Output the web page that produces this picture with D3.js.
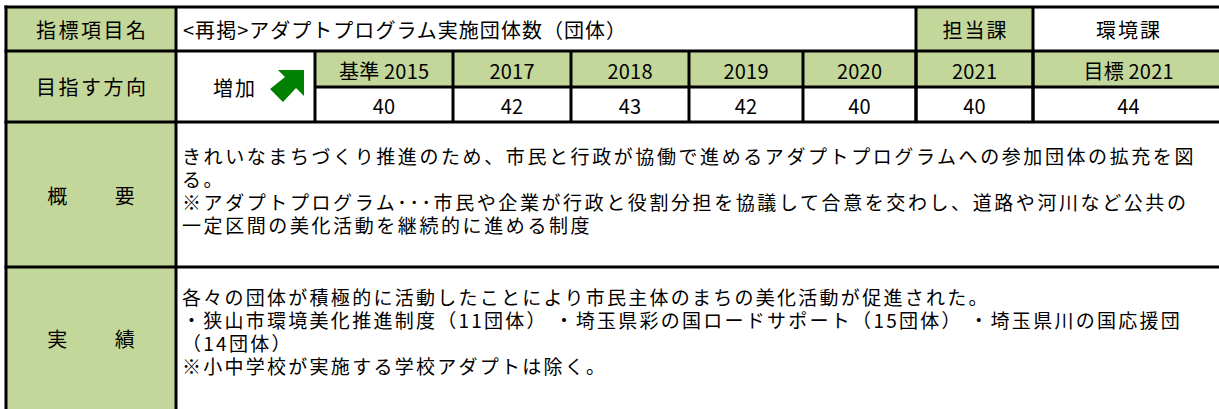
<!DOCTYPE html>
<html><head><meta charset="utf-8">
<script src="https://cdn.jsdelivr.net/npm/d3@7"></script>
<style>
html,body{margin:0;padding:0;background:#fff;}
svg{display:block;font-family:"Noto Sans CJK JP","Noto Sans",sans-serif;font-weight:400;}
.para{font-family:"Noto Sans CJK JP","Noto Sans",sans-serif;color:#000;white-space:pre;margin:0;padding:0;}
.para div{height:23px;line-height:23px;overflow:visible;}
</style></head>
<body><svg id="c" width="1219" height="409"></svg>
<script>
// ---- data ----
const rowLabels = ["指標項目名", "目指す方向", "概　　要", "実　　績"];
const indicatorTitle = "<再掲>アダプトプログラム実施団体数（団体）";
const deptLabel = "担当課";
const deptName = "環境課";
const direction = "増加";
const years = ["基準 2015", "2017", "2018", "2019", "2020", "2021", "目標 2021"];
const values = [40, 42, 43, 42, 40, 40, 44];
const summaryLines = [
  "きれいなまちづくり推進のため、市民と行政が協働で進めるアダプトプログラムへの参加団体の拡充を図",
  "る。",
  "※アダプトプログラム･･･市民や企業が行政と役割分担を協議して合意を交わし、道路や河川など公共の",
  "一定区間の美化活動を継続的に進める制度"
];
const resultLines = [
  "各々の団体が積極的に活動したことにより市民主体のまちの美化活動が促進された。",
  "・狭山市環境美化推進制度（11団体） ・埼玉県彩の国ロードサポート（15団体） ・埼玉県川の国応援団",
  "（14団体）",
  "※小中学校が実施する学校アダプトは除く。"
];

// ---- layout ----
const GREEN = "#c4d79b", LINE = "#000", FS = 20, FSP = 19, LH = 23;
const svg = d3.select("#c");
const xL = 6, xA = 176, xB = 315, xR = 1224;
const colEdges = [xB, 453, 571, 689, 803, 916, 1033, xR];
const yEdges = [7, 51, 122, 267, 415];
const ySub = 87;
const xCol = d3.scaleOrdinal().domain(d3.range(years.length)).range(d3.range(years.length).map(i => colEdges[i]));
const xColEnd = i => colEdges[i + 1];
const yRow = d3.scaleOrdinal().domain(d3.range(4)).range(yEdges.slice(0, 4));
const yRowEnd = i => yEdges[i + 1];

const gFill = svg.append("g"), gLine = svg.append("g"), gText = svg.append("g");

gFill.selectAll("rect.lab").data(rowLabels).join("rect")
  .attr("x", xL).attr("y", (d, i) => yRow(i)).attr("width", xA - xL)
  .attr("height", (d, i) => yRowEnd(i) - yRow(i)).attr("fill", GREEN);
gFill.append("rect").attr("x", 916).attr("y", yEdges[0]).attr("width", 1033 - 916)
  .attr("height", yEdges[1] - yEdges[0]).attr("fill", GREEN);
gFill.selectAll("rect.yr").data(years).join("rect")
  .attr("x", (d, i) => xCol(i)).attr("y", yEdges[1]).attr("width", (d, i) => xColEnd(i) - xCol(i))
  .attr("height", ySub - yEdges[1]).attr("fill", GREEN);

const hl = (x1, x2, y) => gLine.append("line").attr("x1", x1).attr("x2", x2).attr("y1", y).attr("y2", y)
  .attr("stroke", LINE).attr("stroke-width", 3);
const vl = (x, y1, y2) => gLine.append("line").attr("x1", x).attr("x2", x).attr("y1", y1).attr("y2", y2)
  .attr("stroke", LINE).attr("stroke-width", 3);
yEdges.slice(0, 4).forEach(y => hl(xL - 1.5, xR, y));
hl(xB, xR, ySub);
vl(xL, yEdges[0] - 1.5, 409);
vl(xA, yEdges[0], 409);
vl(916, yEdges[0], yEdges[2]);
vl(1033, yEdges[0], yEdges[2]);
colEdges.slice(0, -1).forEach(x => vl(x, yEdges[1], yEdges[2]));

function txt(s, x, y, anchor, ls, fs) {
  const l = ls == null ? 2 : ls;
  const a = anchor || "middle";
  return gText.append("text").attr("x", a === "middle" ? x + l / 2 : x).attr("y", y).attr("text-anchor", a)
    .attr("dominant-baseline", "central").attr("font-size", fs || FS)
    .attr("letter-spacing", l).attr("fill", "#000").text(s);
}
function fitSpacing(s, width, fs) {
  const t = gText.append("text").attr("font-size", fs).text(s);
  const w = t.node().getComputedTextLength(); t.remove();
  return (width - w) / [...s].length;
}
function para(lines, x, yCenter0, ls) {
  const fo = svg.append("foreignObject").attr("x", x).attr("y", yCenter0 - LH / 2)
    .attr("width", 1219 - x).attr("height", LH * lines.length + 4);
  const div = fo.append("xhtml:div").attr("class", "para")
    .style("font-size", FSP + "px").style("letter-spacing", ls + "px");
  div.selectAll("div").data(lines).join("xhtml:div").text(d => d);
}

const labelY = [29, 86, 195, 338];
rowLabels.forEach((s, i) => txt(s, (xL + xA) / 2, labelY[i], "middle", 2.5));

txt(indicatorTitle, 183, 29, "start", fitSpacing(indicatorTitle, 444, FS));
txt(deptLabel, (916 + 1033) / 2, 29, "middle", 2);
txt(deptName, 1128, 29, "middle", 2);

txt(direction, 234, 87, "middle", 2);
gText.append("polygon")
  .attr("points", [[278,70],[304,70],[304,96],[296,88],[283,102],[270,89],[285,77]].map(p => p.join(",")).join(" "))
  .attr("fill", "#008000");

years.forEach((s, i) => txt(s, (xCol(i) + xColEnd(i)) / 2, 70, "middle", 0.2));
values.forEach((v, i) => txt(String(v), (xCol(i) + xColEnd(i)) / 2, 105, "middle", 0.2));

para(summaryLines, 182, 155, fitSpacing(summaryLines[0], 1014, FSP));
para(resultLines, 182, 296, fitSpacing(resultLines[1], 1000, FSP));
</script></body></html>
